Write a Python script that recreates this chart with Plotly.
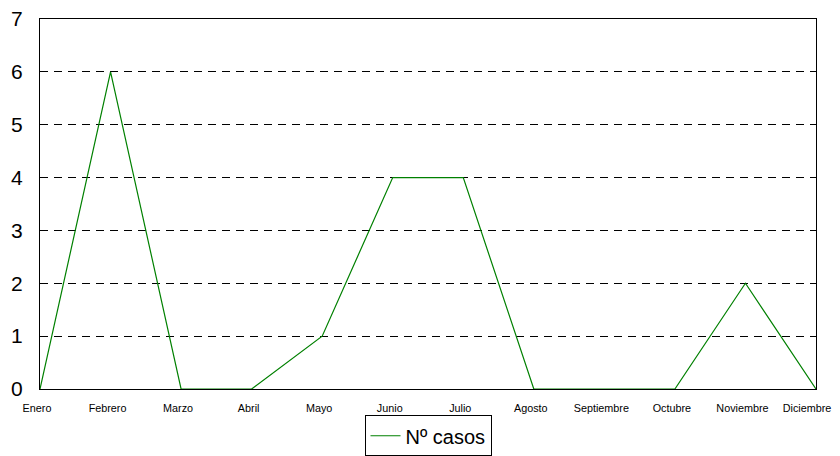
import plotly.graph_objects as go

months = ["Enero", "Febrero", "Marzo", "Abril", "Mayo", "Junio", "Julio",
          "Agosto", "Septiembre", "Octubre", "Noviembre", "Diciembre"]
casos = [0, 6, 0, 0, 1, 4, 4, 0, 0, 0, 2, 0]
y_ticks = [0, 1, 2, 3, 4, 5, 6, 7]

# the last label is nudged left with trailing no-break spaces so it stays visible
tick_text = months[:-1] + [months[-1] + "\u00a0" * 4]

fig = go.Figure()
fig.add_trace(go.Scatter(
    x=months, y=casos, mode="lines", name="N\u00ba casos",
    line=dict(color="#008000", width=1.2),
))

# page body has an 8px margin, so the figure is sized to fit the 840x456 window
fig.update_layout(
    width=832, height=448,
    margin=dict(l=32, r=24, t=11, b=67, autoexpand=False),
    paper_bgcolor="white", plot_bgcolor="white",
    font=dict(family="Liberation Sans, Arial, sans-serif", color="black"),
    showlegend=True,
    legend=dict(
        orientation="h", x=0.5, xanchor="center", y=-0.071, yanchor="top",
        bordercolor="black", borderwidth=1, font=dict(size=20),
        itemwidth=30,
    ),
)
fig.update_xaxes(
    type="category", range=[0, len(months) - 1], automargin=False,
    tickmode="array", tickvals=months, ticktext=tick_text,
    showgrid=False, showline=True, linecolor="black", linewidth=1, mirror=True,
    ticks="", tickfont=dict(size=10.8), ticklabelstandoff=9,
    ticklabelshift=-3, ticklabeloverflow="allow",
)
fig.update_yaxes(
    range=[0, 7], tickvals=y_ticks, automargin=False,
    showgrid=True, gridcolor="black", gridwidth=1, griddash="8px,6px",
    zeroline=False, showline=True, linecolor="black", linewidth=1, mirror=True,
    ticks="", tickfont=dict(size=21), ticklabelstandoff=12,
    ticklabeloverflow="allow",
)

fig.write_html("out.html")
